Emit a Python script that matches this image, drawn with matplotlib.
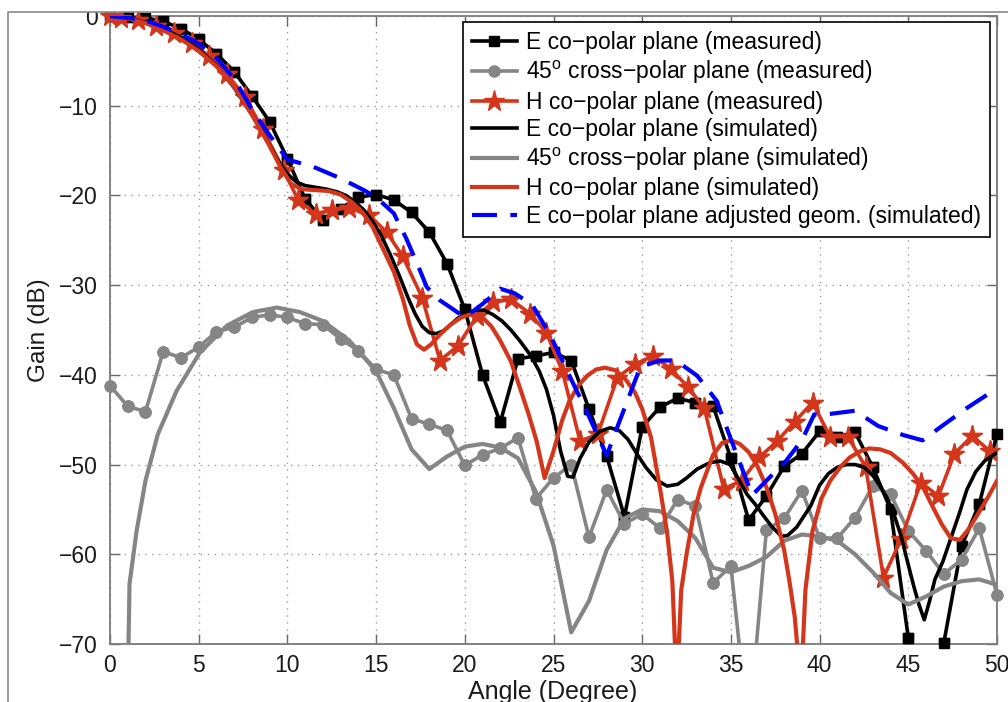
import matplotlib
matplotlib.use("Agg")
import matplotlib.pyplot as plt
import numpy as np
from matplotlib.lines import Line2D
from matplotlib.patches import Rectangle

plt.rcParams['font.family'] = ['Liberation Sans', 'DejaVu Sans']
plt.rcParams['mathtext.fontset'] = 'custom'
plt.rcParams['mathtext.rm'] = 'Liberation Sans'
plt.rcParams['mathtext.it'] = 'Liberation Sans:italic'
plt.rcParams['mathtext.default'] = 'regular'

# ---------------- data ----------------
# measured E co-polar (integer degrees)
e_meas_x = list(range(0, 51))
e_meas_y = [0, -0.1, -0.2, -0.6, -1.4, -2.6, -4.2, -6.2, -8.9, -11.8,
            -15.9, -20.4, -22.7, -21.5, -20.2, -19.9, -20.5, -21.9, -24.1, -27.6,
            -32.7, -40.0, -45.3, -38.2, -37.9, -37.5, -38.4, -43.8, -49.1, -55.8,
            -45.8, -43.6, -42.6, -43.1, -43.5, -49.3, -56.2, -53.5, -50.2, -48.8,
            -46.3, -46.9, -46.4, -50.3, -55.0, -69.3, -80.0, -69.9, -59.1, -54.4, -46.6]

# measured 45 deg cross-polar
x_meas_x = list(range(0, 51))
x_meas_y = [-41.2, -43.5, -44.1, -37.4, -38.1, -36.9, -35.2, -34.7, -33.6, -33.3,
            -33.6, -34.3, -34.4, -36.0, -37.3, -39.4, -40.0, -44.9, -45.5, -46.2,
            -50.1, -48.9, -48.2, -47.0, -53.8, -51.5, -50.0, -58.1, -52.8, -56.6,
            -55.5, -57.1, -53.9, -54.6, -63.2, -61.3, -80.0, -57.3, -56.0, -52.9,
            -58.2, -58.2, -55.9, -52.4, -53.3, -57.4, -59.6, -62.2, -60.6, -57.1, -64.5]

# measured H co-polar
h_meas_x = [0, 0.6, 1.6, 2.6, 3.6, 4.6, 5.6, 6.6, 7.6, 8.6,
            9.8, 10.6, 11.6, 12.5, 13.5, 14.6, 15.6, 16.5, 17.6, 18.6,
            19.6, 20.7, 21.6, 22.6, 23.7, 24.6, 25.5, 26.5, 27.5, 28.6,
            29.6, 30.6, 31.6, 32.6, 33.5, 34.6, 35.6, 36.6, 37.6, 38.6,
            39.6, 40.6, 41.6, 42.6, 43.6, 44.6, 45.7, 46.7, 47.6, 48.6, 49.6]
h_meas_y = [0, -0.2, -0.5, -1.1, -1.9, -3.0, -4.5, -6.5, -9.0, -12.6,
            -17.2, -20.5, -22.1, -21.6, -21.4, -22.2, -24.1, -26.8, -31.4, -38.4,
            -36.8, -33.4, -31.9, -31.6, -33.2, -35.3, -39.6, -47.4, -46.6, -40.3,
            -38.8, -37.9, -39.3, -41.4, -43.7, -52.7, -51.8, -49.2, -47.4, -45.2,
            -43.1, -46.9, -46.9, -50.3, -62.6, -58.3, -52.0, -53.5, -48.8, -46.8, -48.5]

# simulated E co-polar
e_sim_x = [0, 1, 2, 3, 4, 5, 6, 7, 7.5, 8,
           8.5, 9, 9.5, 10, 10.5, 11, 11.6, 12.2, 12.8, 13.3,
           13.8, 14.3, 14.8, 15.3, 15.8, 16.3, 16.8, 17.2, 17.6, 18.0,
           18.4, 18.8, 19.2, 19.6, 20.1, 20.6, 21.1, 21.6, 22.1, 22.6,
           23.1, 23.7, 24.2, 24.6, 25.0, 25.4, 25.8, 26.1, 26.5, 27.0,
           27.6, 28.2, 28.7, 29.2, 29.7, 30.2, 30.8, 31.4, 32.0, 32.5,
           33.1, 33.8, 34.4, 34.95, 35.4, 35.9, 36.4, 36.8, 37.3, 37.85,
           38.2, 38.7, 39.1, 39.5, 40.0, 40.5, 41.0, 41.5, 42.0, 42.5,
           43.0, 43.4, 43.8, 44.2, 44.6, 44.9, 45.3, 45.6, 45.9, 46.2,
           46.5, 46.95, 47.4, 47.9, 48.3, 48.8, 49.3, 49.9, 50]
e_sim_y = [0, -0.2, -0.7, -1.4, -2.4, -3.7, -5.5, -8.0, -9.5, -11.0,
           -12.6, -14.4, -16.2, -17.6, -18.5, -18.9, -19.1, -19.3, -19.6, -20.0,
           -20.7, -21.6, -22.9, -24.5, -26.6, -28.9, -31.4, -33.2, -34.6, -35.3,
           -35.4, -35.1, -34.4, -33.7, -33.1, -32.8, -32.8, -33.3, -34.0, -35.0,
           -36.2, -37.8, -39.6, -41.6, -44.5, -48.5, -51.3, -51.4, -49.3, -47.5,
           -46.3, -45.9, -46.2, -47.2, -48.8, -50.3, -51.7, -52.4, -52.2, -51.5,
           -50.5, -49.8, -49.6, -50.0, -51.5, -53.3, -54.5, -55.6, -56.9, -58.0,
           -57.9, -57.0, -55.8, -54.6, -52.3, -51.0, -50.3, -50.0, -50.0, -50.3,
           -51.2, -52.4, -53.7, -55.6, -58.0, -60.4, -63.5, -65.6, -67.3, -65.2,
           -62.8, -60.8, -58.2, -55.3, -52.8, -50.8, -49.6, -48.8, -48.7]

# simulated 45 deg cross-polar
x_sim_x = [1.0, 1.1, 1.5, 2.0, 2.7, 3.75, 5.07, 6.6, 8.06, 9.4,
           10.7, 12.0, 13.5, 15.0, 16.0, 17.0, 18.0, 19.0, 20.0, 21.0,
           22.0, 23.0, 24.0, 25.0, 26.0, 27.0, 28.0, 29.0, 30.0, 31.0,
           32.0, 33.0, 34.0, 35.0, 36.0, 37.0, 38.0, 39.0, 40.0, 41.0,
           42.0, 43.0, 44.0, 45.0, 46.0, 47.0, 48.0, 49.0, 50.0]
x_sim_y = [-75.0, -63.3, -57.4, -51.8, -46.6, -41.8, -37.5, -34.5, -33.0, -32.5,
           -33.0, -34.0, -36.2, -39.6, -43.7, -48.3, -50.5, -49.1, -48.0, -47.7,
           -48.1, -49.3, -53.0, -59.0, -68.7, -65.2, -59.5, -56.0, -55.0, -55.2,
           -56.3, -58.2, -61.5, -62.0, -61.3, -60.3, -58.5, -57.8, -58.0, -58.5,
           -60.0, -62.0, -64.3, -65.6, -64.7, -63.6, -63.0, -62.8, -63.4]

# simulated H co-polar
h_sim_x = [0, 1, 2, 3, 4, 5, 6, 7, 8, 9,
           9.6, 10.2, 10.8, 11.5, 12.3, 13.0, 13.6, 14.2, 14.8, 15.4,
           16.0, 16.5, 16.9, 17.3, 17.7, 18.1, 18.6, 19.2, 19.8, 20.4,
           20.9, 21.5, 22.0, 22.6, 23.1, 23.6, 24.05, 24.5, 25.0, 25.5,
           25.9, 26.4, 26.9, 27.4, 27.9, 28.5, 29.1, 29.6, 30.0, 30.5,
           31.0, 31.4, 31.7, 31.95, 32.2, 32.5, 32.9, 33.3, 34.0, 34.5,
           35.0, 35.5, 36.0, 36.5, 37.0, 37.5, 38.0, 38.3, 38.6, 38.95,
           39.2, 39.6, 40.1, 40.6, 41.2, 41.7, 42.3, 42.8, 43.4, 44.0,
           44.7, 45.3, 45.9, 46.4, 46.9, 47.4, 47.9, 48.4, 48.9, 49.5, 50.0]
h_sim_y = [0, -0.25, -0.8, -1.6, -2.6, -3.9, -5.6, -7.9, -11.0, -14.5,
           -16.8, -18.7, -19.3, -19.4, -19.5, -19.9, -20.7, -21.8, -23.5, -26.0,
           -28.5, -31.5, -34.5, -36.6, -37.2, -36.6, -35.5, -34.4, -33.6, -33.2,
           -33.4, -34.6, -36.2, -38.5, -41.4, -44.4, -47.4, -51.5, -48.5, -45.0,
           -42.9, -41.2, -40.1, -39.4, -39.2, -39.5, -40.6, -42.0, -43.8, -47.0,
           -52.6, -57.5, -63.0, -75.0, -64.0, -60.0, -55.5, -52.6, -48.9, -47.6,
           -47.3, -47.7, -48.6, -50.2, -52.5, -55.5, -59.5, -63.0, -67.0, -75.0,
           -64.0, -57.4, -53.8, -51.8, -50.2, -49.2, -48.5, -48.2, -48.3, -48.7,
           -49.8, -51.1, -52.8, -54.8, -56.7, -58.2, -58.4, -57.2, -55.6, -53.6, -51.8]

# simulated E co-polar, adjusted geometry
e_adj_x = [0, 1, 2, 3, 4, 5, 6, 7, 8, 9,
           10.0, 11.45, 13.0, 14.3, 15.0, 16.0, 16.7, 17.4, 17.85, 18.6,
           19.2, 20.0, 21.0, 22.0, 22.8, 23.8, 24.8, 25.8, 26.9, 28.0,
           28.6, 29.9, 31.0, 31.9, 33.1, 34.2, 35.1, 36.2, 37.0, 38.1,
           39.0, 39.7, 40.0, 42.0, 43.3, 44.7, 45.8, 46.9, 48.3, 50.0]
e_adj_y = [0, -0.2, -0.5, -1.2, -2.0, -3.1, -4.7, -7.0, -10.4, -13.3,
           -16.0, -16.8, -18.1, -19.4, -20.2, -22.0, -24.8, -28.0, -30.2, -31.7,
           -32.5, -33.6, -32.1, -30.4, -30.9, -32.2, -35.5, -39.7, -44.2, -49.0,
           -45.8, -39.1, -38.4, -38.4, -40.1, -42.9, -47.7, -53.4, -51.8, -49.6,
           -47.3, -44.4, -44.5, -44.0, -45.7, -46.7, -47.3, -45.7, -43.7, -41.5]

x_ticks = [0, 5, 10, 15, 20, 25, 30, 35, 40, 45, 50]
y_ticks = [-70, -60, -50, -40, -30, -20, -10, 0]

labels = ['E co\u2212polar plane (measured)',
          '45$^{o}$ cross\u2212polar plane (measured)',
          'H co\u2212polar plane (measured)',
          'E co\u2212polar plane (simulated)',
          '45$^{o}$ cross\u2212polar plane (simulated)',
          'H co\u2212polar plane (simulated)',
          'E co\u2212polar plane adjusted geom. (simulated)']

# ---------------- style ----------------
BLACK = '#000000'
GRAY = '#858585'
RED = '#D4361C'
BLUE = '#0000FF'
LW = 2.6

fig = plt.figure(figsize=(10.08, 7.02), dpi=100)
W, H = 1008.0, 702.0
ax = fig.add_axes([110 / W, 1 - 644 / H, 887 / W, 628 / H])

def measured(xs, ys, color, marker, ms, label):
    ax.plot(xs, ys, color=color, lw=LW, marker=marker, ms=ms,
            markeredgecolor=color, markerfacecolor=color, label=label, zorder=3)
    xs_a = np.array(xs, float)
    ys_a = np.array(ys, float)
    inside = ys_a >= -70.3
    ax.plot(xs_a[inside], ys_a[inside], ls='none', marker=marker, ms=ms,
            markeredgecolor=color, markerfacecolor=color, clip_on=False, zorder=3)

measured(e_meas_x, e_meas_y, BLACK, 's', 7.5, labels[0])
measured(x_meas_x, x_meas_y, GRAY, 'o', 8, labels[1])
measured(h_meas_x, h_meas_y, RED, '*', 15.5, labels[2])
ax.plot(e_sim_x, e_sim_y, color=BLACK, lw=LW, label=labels[3], zorder=3)
ax.plot(x_sim_x, x_sim_y, color=GRAY, lw=LW + 0.4, label=labels[4], zorder=3)
ax.plot(h_sim_x, h_sim_y, color=RED, lw=LW + 0.4, label=labels[5], zorder=3)
ax.plot(e_adj_x, e_adj_y, color=BLUE, lw=LW + 0.4, dashes=(6.0, 3.2),
        label=labels[6], zorder=3)

ax.set_xlim(0, 50)
ax.set_ylim(-70, 0)
ax.set_xticks(x_ticks)
ax.set_yticks(y_ticks)
ax.grid(True, linestyle=(0, (1, 4)), color='#9a9a9a', linewidth=1.0)
ax.tick_params(direction='in', length=7, width=1.0, top=True, right=True,
               color='#6a6a6a', labelsize=16.5, labelcolor='#1a1a1a')
ax.tick_params(axis='y', pad=9)
ax.tick_params(axis='x', pad=7)
for s in ax.spines.values():
    s.set_color('#7a7a7a')
    s.set_linewidth(1.3)

ax.set_ylabel('Gain (dB)', fontsize=17.5, color='#1a1a1a', labelpad=6)
fig.text(553 / W, 1 - 699 / H, 'Angle (Degree)', ha='center', va='baseline',
         fontsize=18, color='#1a1a1a')

leg = ax.legend(loc='upper right', bbox_to_anchor=(1 - 7 / 887, 1 - 6 / 628),
                fontsize=16.5, frameon=True, fancybox=False, framealpha=1,
                edgecolor='#000000', handlelength=1.95, handletextpad=0.4,
                labelspacing=0.2, borderpad=0.4, borderaxespad=0.0, numpoints=1)
leg.get_frame().set_linewidth(1.2)
leg.set_zorder(10)

# white margin above figure frame and frame lines
fig.add_artist(Rectangle((0, 1 - 12 / H), 1, 12 / H, transform=fig.transFigure,
                         facecolor='white', edgecolor='none', zorder=20))
fig.add_artist(Line2D([8 / W, 8 / W, 1], [0, 1 - 12 / H, 1 - 12 / H],
                      transform=fig.transFigure, color='#8a8a8a', lw=1.2, zorder=21))

fig.savefig('out.png', dpi=100)
